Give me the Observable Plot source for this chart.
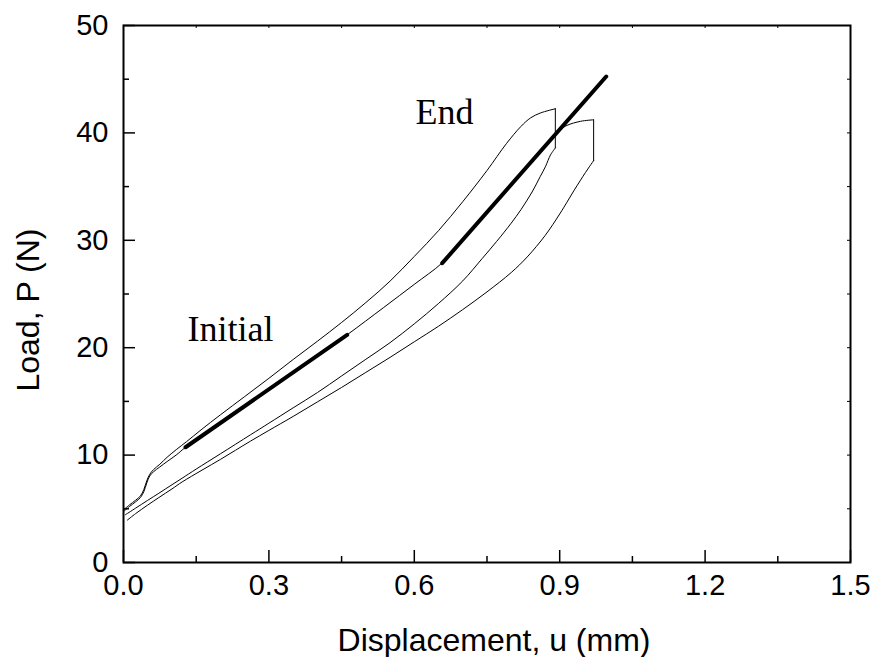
<!DOCTYPE html>
<html><head><meta charset="utf-8">
<script src="https://cdn.jsdelivr.net/npm/d3@7"></script>
<script src="https://cdn.jsdelivr.net/npm/@observablehq/plot@0.6"></script>
<style>body{margin:0;background:#fff}</style>
</head><body><div id="chart"></div>
<script>
// Tick values
const xMajorTicks = [0, 0.3, 0.6, 0.9, 1.2, 1.5];
const xMinorTicks = [0.15, 0.45, 0.75, 1.05, 1.35];
const xAllTicks = [0.15, 0.3, 0.45, 0.6, 0.75, 0.9, 1.05, 1.2, 1.35];
const yMajorTicks = [0, 10, 20, 30, 40, 50];
const yMinorTicks = [5, 15, 25, 35, 45];
const yAllTicks = [5, 10, 15, 20, 25, 30, 35, 40, 45];

// Cycle 1: loading, drop, unloading  [displacement mm, load N]
const loading1 = [[0,4.9],[0.012,5.35],[0.025,5.8],[0.035,6.2],[0.042,6.8],[0.048,7.6],[0.054,8.2],[0.062,8.65],[0.075,9.15],[0.09,9.8],[0.11,10.55],[0.13,11.25],[0.16,12.35],[0.2,13.75],[0.25,15.45],[0.3,17.15],[0.35,18.9],[0.4,20.6],[0.45,22.35],[0.5,24.2],[0.55,26.2],[0.6,28.5],[0.65,30.9],[0.7,33.6],[0.75,36.5],[0.79,39.0],[0.82,40.6],[0.84,41.4],[0.86,41.85],[0.891,42.25]];
const drop1 = [[0.891,42.25],[0.891,38.6]];
const unloading1 = [[0.891,38.6],[0.881,37.95],[0.871,36.9],[0.86,35.95],[0.843,34.5],[0.82,32.85],[0.8,31.6],[0.77,29.9],[0.74,28.3],[0.7,26.22],[0.65,24.12],[0.6,22.22],[0.55,20.47],[0.5,18.92],[0.45,17.37],[0.4,15.82],[0.35,14.4],[0.3,12.97],[0.262,11.89],[0.2,10.12],[0.15,8.7],[0.121,7.85],[0.1,7.24],[0.073,6.45],[0.05,5.79],[0.025,5.06],[0.004,4.45]];

// Cycle 2
const loading2 = [[0,4.75],[0.012,5.2],[0.025,5.65],[0.035,6.05],[0.042,6.6],[0.048,7.4],[0.054,8.05],[0.062,8.45],[0.075,8.9],[0.09,9.4],[0.11,10.05],[0.128,10.73],[0.2,12.95],[0.3,16.05],[0.4,19.2],[0.4615,21.2],[0.537,23.75],[0.6,25.9],[0.6576,27.9],[0.7,30.05],[0.75,32.6],[0.8,35.2],[0.85,37.8],[0.9,40.25],[0.915,40.7],[0.943,41.08],[0.97,41.22]];
const drop2 = [[0.97,41.22],[0.97,37.42]];
const unloading2 = [[0.97,37.42],[0.962,36.9],[0.953,36.3],[0.943,35.6],[0.929,34.6],[0.915,33.55],[0.9,32.45],[0.87,30.45],[0.833,28.45],[0.8,27.0],[0.75,25.2],[0.7,23.55],[0.65,22.0],[0.6,20.55],[0.55,19.1],[0.5,17.7],[0.45,16.3],[0.4,14.95],[0.35,13.6],[0.3,12.3],[0.262,11.3],[0.231,10.45],[0.2,9.6],[0.162,8.6],[0.121,7.5],[0.1,6.85],[0.073,6.05],[0.05,5.35],[0.025,4.55],[0.008,3.95]];

// Fitted stiffness lines
const initialFit = [[0.128,10.73],[0.4615,21.2]];
const endFit = [[0.6576,27.87],[0.996,45.25]];

// Annotations
const notes = [{x: 0.132, y: 21.7, text: "Initial"}, {x: 0.6025, y: 41.9, text: "End"}];

const X = d => d[0], Y = d => d[1];
const plotH = 657 - 25 - 95, plotW = 877 - 123 - 27;

const thin = {x: X, y: Y, stroke: "black", strokeWidth: 1, curve: "catmull-rom"};
const chart = Plot.plot({
  width: 877, height: 657,
  marginLeft: 123, marginRight: 27, marginTop: 25, marginBottom: 95,
  x: {domain: [0, 1.5]},
  y: {domain: [0, 50]},
  style: {fontFamily: "Liberation Sans, Arial, sans-serif", background: "white", color: "black", overflow: "visible"},
  marks: [
    Plot.line(loading1, thin),
    Plot.line(drop1, {x: X, y: Y, stroke: "black", strokeWidth: 1}),
    Plot.line(unloading1, thin),
    Plot.line(loading2, thin),
    Plot.line(drop2, {x: X, y: Y, stroke: "black", strokeWidth: 1}),
    Plot.line(unloading2, thin),
    Plot.line(initialFit, {x: X, y: Y, stroke: "black", strokeWidth: 4}),
    Plot.line(endFit, {x: X, y: Y, stroke: "black", strokeWidth: 4}),
    // inward ticks
    Plot.tickX(xMajorTicks, {x: d => d, insetTop: plotH - 12, stroke: "black", strokeWidth: 1.5}),
    Plot.tickX(xMinorTicks, {x: d => d, insetTop: plotH - 6, stroke: "black", strokeWidth: 1.5}),
    Plot.tickX(xAllTicks, {x: d => d, insetBottom: plotH - 3, stroke: "black", strokeWidth: 1}),
    Plot.tickY(yMajorTicks, {y: d => d, insetRight: plotW - 12, stroke: "black", strokeWidth: 1.5}),
    Plot.tickY(yMinorTicks, {y: d => d, insetRight: plotW - 6, stroke: "black", strokeWidth: 1.5}),
    Plot.tickY(yAllTicks, {y: d => d, insetLeft: plotW - 3, stroke: "black", strokeWidth: 1}),
    Plot.frame({stroke: "black", strokeWidth: 2}),
    Plot.axisX({ticks: xMajorTicks, tickSize: 0, tickPadding: 12, tickFormat: d3.format(".1f"), fontSize: 29, label: null}),
    Plot.axisY({ticks: yMajorTicks, tickSize: 0, tickPadding: 15, fontSize: 29, label: null}),
    Plot.text(["Displacement, u (mm)"], {frameAnchor: "bottom", dx: 7, dy: 78, fontSize: 32, textAnchor: "middle", lineAnchor: "middle"}),
    Plot.text(["Load, P (N)"], {frameAnchor: "left", dx: -95, dy: 16, rotate: -90, fontSize: 32, textAnchor: "middle", lineAnchor: "middle"}),
    Plot.text(notes, {x: "x", y: "y", text: "text", textAnchor: "start", lineAnchor: "middle", fontSize: 36, fontFamily: "Liberation Serif, Times New Roman, serif"})
  ]
});
document.getElementById("chart").appendChild(chart);
</script>
</body></html>
